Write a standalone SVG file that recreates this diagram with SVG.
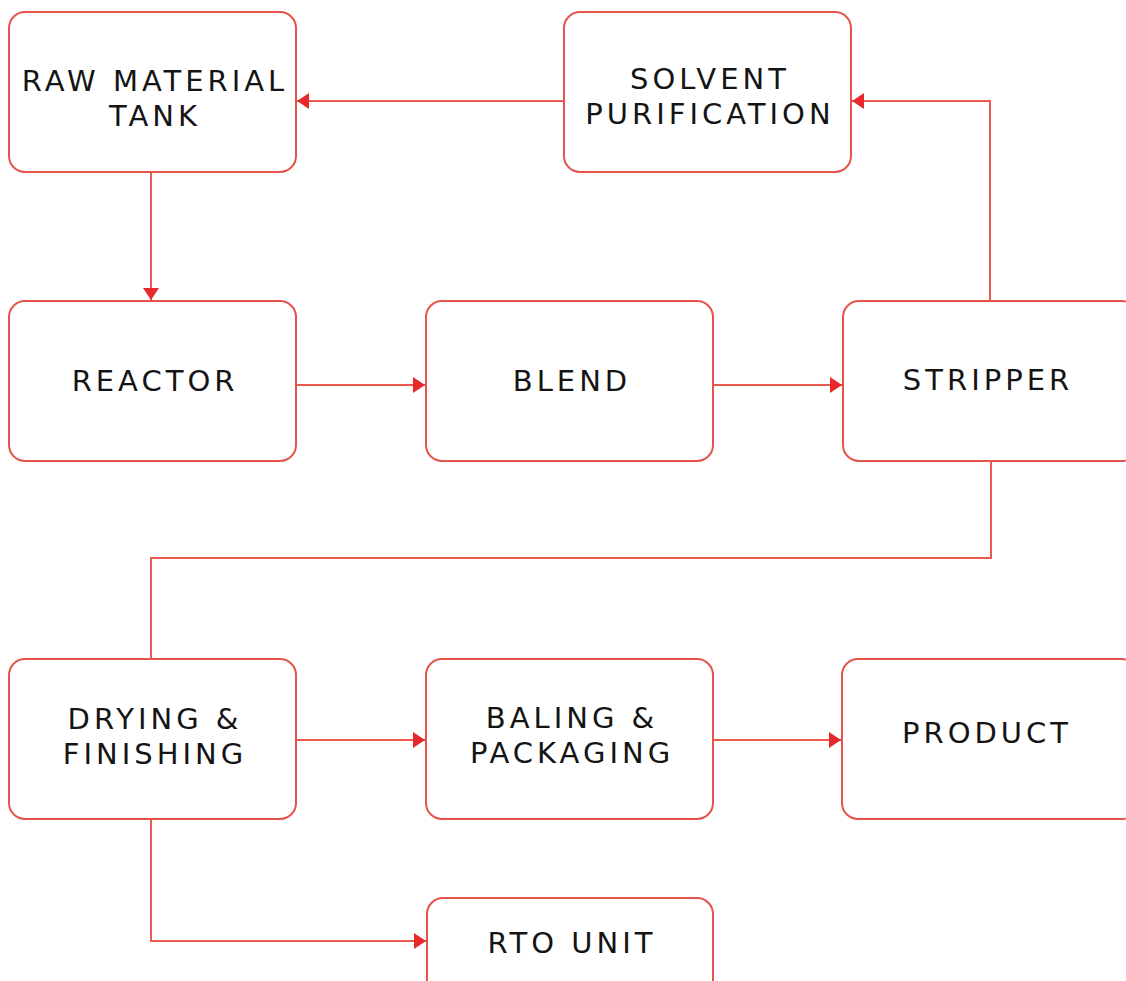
<svg xmlns="http://www.w3.org/2000/svg" width="1126" height="981" viewBox="0 0 1126 981">
  <defs>
    <marker id="arrow" viewBox="0 0 12 18" refX="12" refY="9" markerWidth="12" markerHeight="18" markerUnits="userSpaceOnUse" orient="auto">
      <path d="M0,1 L12,9 L0,17 Z" fill="#e8282a"/>
    </marker>
    <style>
      .box { fill: #ffffff; stroke: #e5534a; stroke-width: 2; }
      .lbl { font-family: "DejaVu Sans", "Noto Sans", sans-serif; font-size: 29px; letter-spacing: 4px; fill: #141414; text-anchor: middle; }
      .link { fill: none; stroke: #ea5a50; stroke-width: 2; }
      .arr { marker-end: url(#arrow); }
    </style>
  </defs>
  <rect width="1126" height="981" fill="#ffffff"/>

  <g id="connectors">
    <path class="link arr" d="M564,101 H297"/>
    <path class="link arr" d="M990,301 V101 H852"/>
    <path class="link arr" d="M151,172 V300"/>
    <path class="link arr" d="M296,385 H425"/>
    <path class="link arr" d="M713,385 H842"/>
    <path class="link" d="M991,461 V558 H151 V659"/>
    <path class="link arr" d="M296,740 H425"/>
    <path class="link arr" d="M713,740 H841"/>
    <path class="link arr" d="M151,819 V941 H426"/>
  </g>

  <g id="raw-material-tank">
    <rect class="box" x="9" y="12" width="287" height="160" rx="16"/>
    <text class="lbl" x="155" y="91">RAW MATERIAL</text>
    <text class="lbl" x="155" y="126">TANK</text>
  </g>
  <g id="solvent-purification">
    <rect class="box" x="564" y="12" width="287" height="160" rx="16"/>
    <text class="lbl" x="710" y="89">SOLVENT</text>
    <text class="lbl" x="710" y="124">PURIFICATION</text>
  </g>
  <g id="reactor">
    <rect class="box" x="9" y="301" width="287" height="160" rx="16"/>
    <text class="lbl" x="155" y="391">REACTOR</text>
  </g>
  <g id="blend">
    <rect class="box" x="426" y="301" width="287" height="160" rx="16"/>
    <text class="lbl" x="572" y="391">BLEND</text>
  </g>
  <g id="stripper">
    <rect class="box" x="843" y="301" width="295" height="160" rx="16"/>
    <text class="lbl" x="988" y="390">STRIPPER</text>
  </g>
  <g id="drying-finishing">
    <rect class="box" x="9" y="659" width="287" height="160" rx="16"/>
    <text class="lbl" x="155" y="729">DRYING &amp;</text>
    <text class="lbl" x="155" y="764">FINISHING</text>
  </g>
  <g id="baling-packaging">
    <rect class="box" x="426" y="659" width="287" height="160" rx="16"/>
    <text class="lbl" x="572" y="728">BALING &amp;</text>
    <text class="lbl" x="572" y="763">PACKAGING</text>
  </g>
  <g id="product">
    <rect class="box" x="842" y="659" width="296" height="160" rx="16"/>
    <text class="lbl" x="987" y="743">PRODUCT</text>
  </g>
  <g id="rto-unit">
    <rect class="box" x="427" y="898" width="286" height="120" rx="16"/>
    <text class="lbl" x="572" y="953">RTO UNIT</text>
  </g>
</svg>
